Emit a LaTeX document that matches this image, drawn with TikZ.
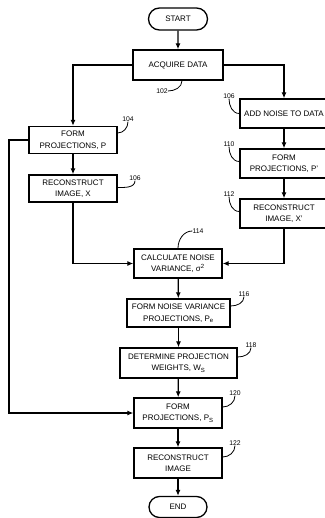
\documentclass[tikz,border=0pt]{standalone}
\usepackage{fontspec}
\setmainfont{Liberation Sans}
\usetikzlibrary{arrows.meta,shapes.misc}

\begin{document}
\begin{tikzpicture}[x=1pt,y=-1pt,
    stepbox/.style={draw,line width=1.3pt,align=center,inner sep=0pt,font=\fontsize{8}{11.5}\selectfont},
    termbox/.style={stepbox,rounded rectangle},
    flow/.style={line width=1.3pt,-{Latex[length=6pt,width=5pt]}},
    lead/.style={line width=0.8pt},
    refnum/.style={inner sep=0pt,font=\fontsize{6.8}{7}\selectfont}]
    \useasboundingbox (0,0) rectangle (324,518);

    \node[termbox,minimum width=59pt,minimum height=22pt] (start) at (178,19) {START};
    \node[stepbox,minimum width=90pt,minimum height=30pt] (acq) at (178,65) {ACQUIRE DATA};

    \node[stepbox,minimum width=88pt,minimum height=27pt] (projP) at (73,140) {FORM\\PROJECTIONS, P};
    \node[stepbox,minimum width=88pt,minimum height=27pt] (imgX) at (73,188.5) {RECONSTRUCT\\IMAGE, X};

    \node[stepbox,minimum width=88pt,minimum height=29pt] (noise) at (284,113.5) {ADD NOISE TO DATA};
    \node[stepbox,minimum width=88pt,minimum height=29pt] (projPp) at (284,163.5) {FORM\\PROJECTIONS, P'};
    \node[stepbox,minimum width=88pt,minimum height=29pt] (imgXp) at (284,213.5) {RECONSTRUCT\\IMAGE, X'};

    \node[stepbox,minimum width=88pt,minimum height=29pt] (calc) at (178,263.5) {CALCULATE NOISE\\VARIANCE, σ\textsuperscript{2}};
    \node[stepbox,minimum width=103pt,minimum height=28pt] (varP) at (178.5,313) {FORM NOISE VARIANCE\\PROJECTIONS, P\textsubscript{e}};
    \node[stepbox,minimum width=117pt,minimum height=30pt] (wts) at (178.5,363) {DETERMINE PROJECTION\\WEIGHTS, W\textsubscript{S}};
    \node[stepbox,minimum width=88pt,minimum height=30pt] (projPs) at (178,413) {FORM\\PROJECTIONS, P\textsubscript{S}};
    \node[stepbox,minimum width=88pt,minimum height=30pt] (img) at (178,463) {RECONSTRUCT\\IMAGE};
    \node[termbox,minimum width=58pt,minimum height=21pt] (end) at (178,507) {END};

    \coordinate (bypass) at (9,140);

    \draw[flow] (start) -- (acq);
    \draw[flow] (acq.west) -| (projP.north);
    \draw[flow] (acq.east) -| (noise.north);
    \draw[flow] (projP) -- (imgX);
    \draw[flow] (noise) -- (projPp);
    \draw[flow] (projPp) -- (imgXp);
    \draw[flow] (imgX.south) |- (calc.west);
    \draw[flow] (imgXp.south) |- (calc.east);
    \draw[flow] (calc) -- (varP);
    \draw[flow] (varP) -- (wts);
    \draw[flow] (wts) -- (projPs);
    \draw[flow] (projP.west) -- (bypass) |- (projPs.west);
    \draw[flow] (projPs) -- (img);
    \draw[flow] (img) -- (end);

    \node[refnum] (n102) at (162,91) {102};
    \node[refnum] (n106b) at (229,96) {106};
    \node[refnum] (n104) at (128,119) {104};
    \node[refnum] (n106a) at (135,178) {106};
    \node[refnum] (n110) at (229,144) {110};
    \node[refnum] (n112) at (229,194) {112};
    \node[refnum] (n114) at (198,231) {114};
    \node[refnum] (n116) at (244,294) {116};
    \node[refnum] (n118) at (251,345) {118};
    \node[refnum] (n120) at (235,393) {120};
    \node[refnum] (n122) at (235,443) {122};

    \draw[lead] (n102.east) to[out=0,in=-90] ([xshift=4pt]acq.south);
    \draw[lead] (n106b.south) to[out=-90,in=180] (noise.west);
    \draw[lead] (n104.south) to[out=-90,in=0] ([yshift=7pt]projP.east);
    \draw[lead] (n106a.south) to[out=-90,in=0] ([yshift=1pt]imgX.east);
    \draw[lead] (n110.south) to[out=-90,in=180] ([yshift=2pt]projPp.west);
    \draw[lead] (n112.south) to[out=-90,in=180] ([yshift=2pt]imgXp.west);
    \draw[lead] (n114.west) to[out=180,in=90] (calc.north);
    \draw[lead] (n116.south) to[out=-90,in=0] ([yshift=7pt]varP.east);
    \draw[lead] (n118.south) to[out=-90,in=0] ([yshift=6pt]wts.east);
    \draw[lead] (n120.south) to[out=-90,in=0] ([yshift=6pt]projPs.east);
    \draw[lead] (n122.south) to[out=-90,in=0] ([yshift=6pt]img.east);
\end{tikzpicture}
\end{document}
